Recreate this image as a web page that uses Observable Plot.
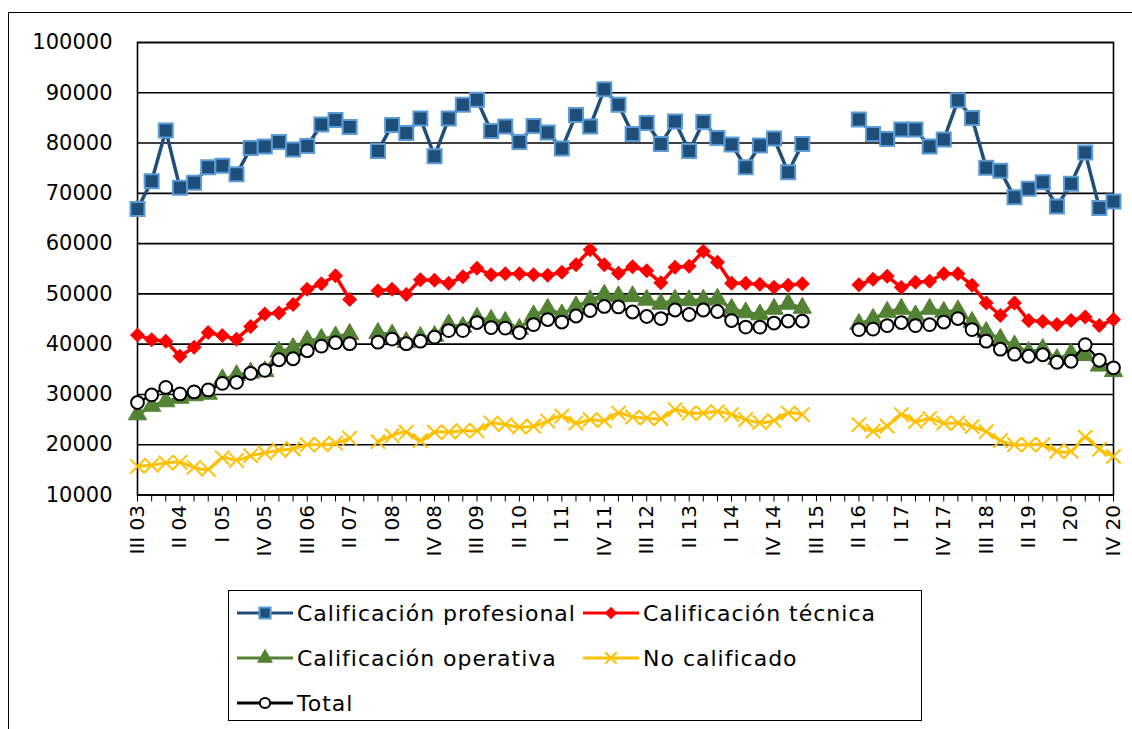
<!DOCTYPE html>
<html><head><meta charset="utf-8">
<script src="https://cdn.jsdelivr.net/npm/d3@7"></script>
<script src="https://cdn.jsdelivr.net/npm/@observablehq/plot@0.6"></script>
<style>
body{margin:0;background:#fff;width:1132px;height:729px;overflow:hidden;position:relative;font-family:"DejaVu Sans",sans-serif;}
#frame{position:absolute;left:8px;top:12px;width:1140px;height:760px;border:1.5px solid #000;box-sizing:border-box}
#chart{position:absolute;left:0;top:0}
#legend{position:absolute;left:228px;top:590px;width:694px;height:131px;border:1.5px solid #000;box-sizing:border-box;background:#fff}
.item{position:absolute;display:flex;align-items:center;font-size:22px;letter-spacing:1px;color:#000;white-space:nowrap;height:30px}
.item svg{margin-right:4px}
</style></head>
<body>
<div id="frame"></div>
<div id="chart"></div>
<div id="legend"></div>
<script>
const quarters = ["III 03","IV 03","I 04","II 04","III 04","IV 04","I 05","II 05","III 05","IV 05",
"I 06","II 06","III 06","IV 06","I 07","II 07","III 07","IV 07","I 08","II 08",
"III 08","IV 08","I 09","II 09","III 09","IV 09","I 10","II 10","III 10","IV 10",
"I 11","II 11","III 11","IV 11","I 12","II 12","III 12","IV 12","I 13","II 13",
"III 13","IV 13","I 14","II 14","III 14","IV 14","I 15","II 15","III 15","IV 15",
"I 16","II 16","III 16","IV 16","I 17","II 17","III 17","IV 17","I 18","II 18",
"III 18","IV 18","I 19","II 19","III 19","IV 19","I 20","II 20","III 20","IV 20"];
const tickLabels = ["III 03","II 04","I 05","IV 05","III 06","II 07","I 08","IV 08","III 09","II 10","I 11","IV 11",
"III 12","II 13","I 14","IV 14","III 15","II 16","I 17","IV 17","III 18","II 19","I 20","IV 20"];
const yTicks = [10000,20000,30000,40000,50000,60000,70000,80000,90000,100000];

const profesional = [66900,72400,82500,71100,72100,75200,75500,73800,79000,79300,
80200,78700,79400,83700,84600,83200,null,78400,83600,82000,
84900,77400,84900,87600,88600,82400,83300,80200,83400,82100,
78900,85600,83300,90700,87600,81800,84000,79800,84300,78400,
84200,81000,79700,75200,79500,80900,74200,79800,null,null,
null,84700,81800,80800,82700,82700,79300,80700,88500,85000,
75100,74500,69200,70900,72200,67400,71900,78100,67100,68400];
const tecnica = [41800,40900,40600,37600,39400,42300,41700,41000,43500,46000,
46200,47900,50900,52000,53600,48900,null,50600,50900,49900,
52800,52700,52100,53400,55100,53800,54000,54000,53800,53700,
54300,55800,58800,55800,54100,55400,54600,52200,55300,55500,
58500,56300,52100,52100,51900,51300,51700,52000,null,null,
null,51800,52900,53500,51300,52300,52500,54000,54000,51700,
48200,45700,48200,44700,44500,43900,44700,45400,43700,44900];
const operativa = [26000,27700,28600,29300,29800,30100,33000,33800,34300,34600,
38500,39200,40700,41000,41500,42000,null,42200,41900,40400,
41400,41600,43900,43400,45200,44800,44400,43000,45700,47000,
45900,47500,48700,49800,49500,49500,48800,48000,48800,48700,
48800,49000,47000,46300,45900,47000,48000,47200,null,null,
null,44000,45000,46400,47000,45700,47000,46400,46700,44400,
42400,41000,39700,38400,39000,37000,38100,37800,35700,34600];
const noCalificado = [15700,15900,16400,16500,15500,15100,17400,16900,17800,18400,
18900,19200,20000,20000,20300,21300,null,20600,21800,22500,
20800,22500,22500,22800,22800,24300,24000,23500,23700,24700,
25700,24300,25000,24800,26300,25500,25300,25200,27000,26300,
26300,26600,26000,25000,24400,24800,26300,26000,null,null,
null,24000,22700,23700,26000,24600,25200,24300,24300,23600,
22600,20800,20000,20000,20000,18700,18700,21500,19100,17700];
const total = [28400,29900,31400,30100,30500,30900,32200,32400,34200,34800,
36900,37100,38700,39600,40300,40100,null,40400,41000,40100,
40600,41400,42700,42700,44300,43300,43200,42300,43900,44900,
44400,45600,46700,47500,47400,46400,45500,45100,46800,45900,
46800,46500,44700,43400,43400,44200,44600,44600,null,null,
null,42900,43000,43700,44300,43700,43900,44400,45100,42900,
40600,39000,38000,37600,37900,36400,36600,39900,36800,35300];

const seriesNames = ["Calificación profesional","Calificación técnica","Calificación operativa","No calificado","Total"];

const rows = vals => quarters.map((q, i) => ({q, v: vals[i]}));
const labelSet = new Set(tickLabels);

const styles = [
  {vals: profesional, line: {stroke: "#1F4E79", strokeWidth: 3.5}, dot: {symbol: "square", r: 7.9, fill: "#1F4E79", stroke: "#5B9BD5", strokeWidth: 2}},
  {vals: tecnica, line: {stroke: "#FF0000", strokeWidth: 3.5}, dot: {symbol: "diamond2", r: 5.8, fill: "#FF0000", stroke: "#FF0000", strokeWidth: 1.5}},
  {vals: operativa, line: {stroke: "#548235", strokeWidth: 3.5}, dot: {symbol: "triangle", r: 6.8, fill: "#548235", stroke: "#548235", strokeWidth: 1}},
  {vals: noCalificado, line: {stroke: "#FFC000", strokeWidth: 3, curve: "catmull-rom"}, dot: {symbol: "times", r: 6.6, fill: "none", stroke: "#FFC000", strokeWidth: 2}},
  {vals: total, line: {stroke: "#000", strokeWidth: 2.5}, dot: {symbol: "circle", r: 6.4, fill: "#fff", stroke: "#000", strokeWidth: 2}}
];

const seriesMarks = styles.flatMap(s => [
  Plot.line(rows(s.vals), {x: "q", y: "v", ...s.line}),
  Plot.dot(rows(s.vals), {x: "q", y: "v", ...s.dot})
]);

const chart = Plot.plot({
  width: 1132,
  height: 580,
  marginLeft: 137,
  marginRight: 19,
  marginTop: 42,
  marginBottom: 85.5,
  style: {fontFamily: "DejaVu Sans, sans-serif", background: "transparent", color: "#000"},
  x: {type: "point", domain: quarters, padding: 0, round: false, label: null},
  y: {domain: [10000, 100000], label: null},
  marks: [
    Plot.ruleY(yTicks, {stroke: "#000", strokeWidth: 1.6}),
    Plot.frame({stroke: "#000", strokeWidth: 1.6}),
    Plot.axisY({ticks: yTicks, tickSize: 0, tickPadding: 25, tickFormat: d3.format("d"), fontSize: 21, fill: "#000", label: null}),
    Plot.axisX({ticks: quarters, tickSize: 7, tickRotate: -90, tickPadding: 3, tickFormat: d => labelSet.has(d) ? d : "", fontSize: 20, fill: "#000", stroke: "#000", label: null}),
    ...seriesMarks
  ]
});
document.getElementById("chart").appendChild(chart);

// legend
const legend = document.getElementById("legend");
const pos = [[8, 22], [354, 22], [8, 67], [354, 67], [8, 112]];
const ns = "http://www.w3.org/2000/svg";
styles.forEach((s, k) => {
  const item = document.createElement("div");
  item.className = "item";
  item.style.left = pos[k][0] + "px";
  item.style.top = (pos[k][1] - 15) + "px";
  const svg = document.createElementNS(ns, "svg");
  svg.setAttribute("width", 56); svg.setAttribute("height", 30);
  const ln = document.createElementNS(ns, "line");
  ln.setAttribute("x1", 0); ln.setAttribute("x2", 56); ln.setAttribute("y1", 15); ln.setAttribute("y2", 15);
  ln.setAttribute("stroke", s.line.stroke); ln.setAttribute("stroke-width", 3);
  svg.appendChild(ln);
  const sym = d3.symbol().type({square: d3.symbolSquare, diamond2: d3.symbolDiamond2, triangle: d3.symbolTriangle, times: d3.symbolTimes, circle: d3.symbolCircle}[s.dot.symbol]).size(Math.PI * (s.dot.r * 0.8) ** 2);
  const p = document.createElementNS(ns, "path");
  p.setAttribute("d", sym());
  p.setAttribute("transform", "translate(28,15)");
  p.setAttribute("fill", s.dot.fill); p.setAttribute("stroke", s.dot.stroke); p.setAttribute("stroke-width", s.dot.strokeWidth);
  svg.appendChild(p);
  item.appendChild(svg);
  const t = document.createElement("span");
  t.textContent = seriesNames[k];
  item.appendChild(t);
  legend.appendChild(item);
});
</script>
</body></html>
